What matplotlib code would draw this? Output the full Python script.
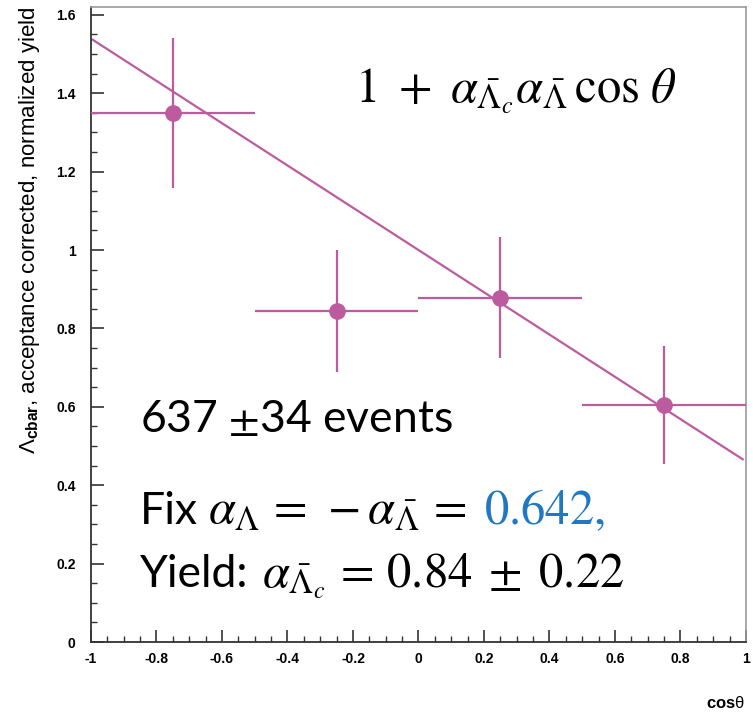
import matplotlib
matplotlib.use("Agg")
import matplotlib.pyplot as plt
from matplotlib.transforms import IdentityTransform
import numpy as np

# ---- data ----
cos_centers = [-0.75, -0.25, 0.25, 0.75]
cos_halfwidth = [0.25, 0.25, 0.25, 0.25]
yields = [1.349, 0.844, 0.878, 0.605]
yield_err = [0.192, 0.156, 0.154, 0.150]
fit_norm = 1.0
alpha_lc = 0.84
alpha_lbar = -0.642
x_ticks = [-1, -0.8, -0.6, -0.4, -0.2, 0, 0.2, 0.4, 0.6, 0.8, 1]
x_ticklabels = ["-1", "-0.8", "-0.6", "-0.4", "-0.2", "0", "0.2", "0.4", "0.6", "0.8", "1"]
y_ticks = [0, 0.2, 0.4, 0.6, 0.8, 1.0, 1.2, 1.4, 1.6]
y_ticklabels = ["0", "0.2", "0.4", "0.6", "0.8", "1", "1.2", "1.4", "1.6"]

plt.rcParams['mathtext.fontset'] = 'stix'
plt.rcParams['mathtext.rm'] = 'Liberation Sans'
plt.rcParams['mathtext.bf'] = 'Liberation Sans:bold'
plt.rcParams['mathtext.it'] = 'Liberation Sans:italic'

col = '#bd5b9f'
W, H = 753, 720
fig = plt.figure(figsize=(W / 100, H / 100), dpi=100)
ax = fig.add_axes([91/W, 1-642/H, 655/W, 635/H])

ax.errorbar(cos_centers, yields, xerr=cos_halfwidth, yerr=yield_err, fmt='o',
            color=col, ms=11, elinewidth=1.6, capsize=0, zorder=3)
xf = np.linspace(-0.995, 0.99, 50)
ax.plot(xf, fit_norm * (1 + alpha_lc * alpha_lbar * xf), color=col, lw=1.6, zorder=2)

ax.set_xlim(-1, 1)
ax.set_ylim(0, 1.62)
ax.set_xticks(x_ticks)
ax.set_xticklabels(x_ticklabels)
ax.set_yticks(y_ticks)
ax.set_yticklabels(y_ticklabels)
ax.set_xticks(np.arange(-1, 1.001, 0.05), minor=True)
ax.set_yticks(np.arange(0, 1.601, 0.05), minor=True)
for lab in ax.get_xticklabels() + ax.get_yticklabels():
    lab.set_fontfamily('Liberation Sans')
    lab.set_fontweight('bold')
    lab.set_fontsize(10)
ax.tick_params(axis='both', which='major', direction='in', length=9, width=1.2, color='#333333')
ax.tick_params(axis='both', which='minor', direction='in', length=4.5, width=1.0, color='#333333')
ax.tick_params(axis='x', pad=7)
ax.tick_params(axis='y', pad=11)
ax.tick_params(top=False, right=False, which='both')
for s in ['left', 'bottom']:
    ax.spines[s].set_color('#333333')
    ax.spines[s].set_linewidth(1.3)
for s in ['top', 'right']:
    ax.spines[s].set_color('#999999')
    ax.spines[s].set_linewidth(1.2)

ax.set_ylabel(r"$\mathrm{\Lambda}_{\mathbf{cbar}}$, acceptance corrected, normalized yield",
              family='Liberation Sans', fontsize=16, loc='top', math_fontfamily='custom')
ax.yaxis.set_label_coords(-0.075, 1.0)
fig.text(745/W, 1-703/H, r"cos$\mathrm{\theta}$", family='Liberation Sans', weight='bold',
         fontsize=12, ha='right', va='center', math_fontfamily='custom')

renderer = fig.canvas.get_renderer()


def chain(x, y, parts):
    """Place text pieces one after another on a common baseline (pixel coords, top-left origin)."""
    cx = x
    for s, gap, kw in parts:
        cx += gap
        t = fig.text(cx, H - y, s, transform=IdentityTransform(), ha='left', va='baseline', **kw)
        cx = t.get_window_extent(renderer).x1
    return cx


txt = dict(family='Lato', fontsize=32)
mth = dict(fontsize=35)
blue = dict(fontsize=35, color='#1f78c1')

chain(355, 102, [(r"$1\ +\ \alpha_{\bar{\Lambda}_c}\alpha_{\bar{\Lambda}}\,\cos\,\theta$", 0, mth)])
chain(140, 432, [(r"637 $\pm$34 events", 0, txt)])
chain(140, 524, [("Fix", 0, txt),
                 (r"$\alpha_{\Lambda}\,=\,-\alpha_{\bar{\Lambda}}\,=$", 10, mth),
                 (r"$0.642,$", 18, blue)])
chain(140, 587, [("Yield:", 0, txt),
                 (r"$\alpha_{\bar{\Lambda}_c}\,=\,0.84\;\pm\;0.22$", 13, mth)])

fig.savefig("out.png", dpi=100)
